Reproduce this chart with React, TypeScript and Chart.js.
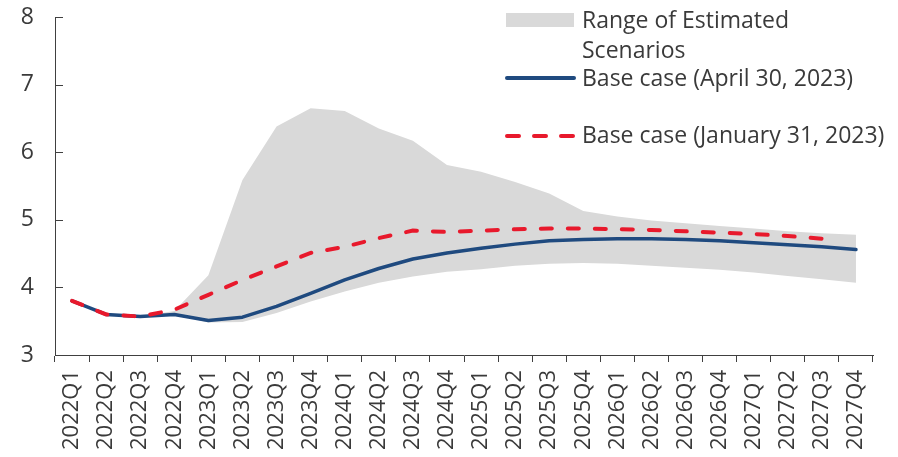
import React, { useEffect, useRef } from "react";
import { Chart, registerables } from "chart.js";

Chart.register(...registerables);

const categories = [
  "2022Q1", "2022Q2", "2022Q3", "2022Q4",
  "2023Q1", "2023Q2", "2023Q3", "2023Q4",
  "2024Q1", "2024Q2", "2024Q3", "2024Q4",
  "2025Q1", "2025Q2", "2025Q3", "2025Q4",
  "2026Q1", "2026Q2", "2026Q3", "2026Q4",
  "2027Q1", "2027Q2", "2027Q3", "2027Q4",
];

const rangeUpper = [3.8, 3.6, 3.57, 3.65, 4.18, 5.59, 6.38, 6.65, 6.61, 6.35, 6.17, 5.81, 5.71, 5.56, 5.39, 5.13, 5.05, 4.99, 4.95, 4.91, 4.87, 4.83, 4.8, 4.78];
const rangeLower = [3.8, 3.6, 3.57, 3.6, 3.48, 3.49, 3.62, 3.79, 3.94, 4.07, 4.16, 4.23, 4.27, 4.32, 4.35, 4.36, 4.35, 4.32, 4.29, 4.26, 4.22, 4.17, 4.12, 4.07];
const baseApril = [3.8, 3.6, 3.57, 3.6, 3.51, 3.56, 3.72, 3.91, 4.11, 4.28, 4.42, 4.51, 4.58, 4.64, 4.69, 4.71, 4.72, 4.72, 4.71, 4.69, 4.66, 4.63, 4.6, 4.56];
const baseJanuary = [3.8, 3.6, 3.57, 3.67, 3.89, 4.11, 4.31, 4.51, 4.6, 4.73, 4.84, 4.82, 4.84, 4.86, 4.87, 4.87, 4.86, 4.85, 4.83, 4.81, 4.79, 4.76, 4.72, null];

const yTicks = [3, 4, 5, 6, 7, 8];

const legendLabels = [
  ["Range of Estimated", "Scenarios"],
  ["Base case (April 30, 2023)"],
  ["Base case (January 31, 2023)"],
];

const FONT = '"Open Sans", "Noto Sans", sans-serif';
const TEXT = "#3a3a3a";
const AXIS = "#404040";
const GREY = "#d9d9d9";
const NAVY = "#1f4a7f";
const RED = "#e8192c";

const customPlugin = {
  id: "customDecor",
  afterDraw(chart: any) {
    const ctx = chart.ctx as CanvasRenderingContext2D;
    const y = chart.scales.y;
    // inward y ticks
    ctx.save();
    ctx.strokeStyle = AXIS;
    ctx.lineWidth = 1;
    for (const v of yTicks) {
      const py = Math.round(y.getPixelForValue(v)) + 0.5;
      ctx.beginPath();
      ctx.moveTo(y.right, py);
      ctx.lineTo(y.right + 8, py);
      ctx.stroke();
    }
    ctx.restore();

    // legend
    ctx.save();
    ctx.font = `23px ${FONT}`;
    ctx.textBaseline = "alphabetic";
    const tx = 582;
    ctx.fillStyle = GREY;
    ctx.fillRect(506, 13, 68, 14);
    ctx.fillStyle = TEXT;
    ctx.fillText(legendLabels[0][0], tx, 28);
    ctx.fillText(legendLabels[0][1], tx, 58);

    ctx.strokeStyle = NAVY;
    ctx.lineWidth = 4;
    ctx.lineCap = "round";
    ctx.beginPath();
    ctx.moveTo(507, 78);
    ctx.lineTo(574, 78);
    ctx.stroke();
    ctx.fillText(legendLabels[1][0], tx, 86);

    ctx.strokeStyle = RED;
    ctx.lineCap = "round";
    ctx.setLineDash([12, 15]);
    ctx.beginPath();
    ctx.moveTo(507, 136);
    ctx.lineTo(576, 136);
    ctx.stroke();
    ctx.setLineDash([]);
    ctx.fillText(legendLabels[2][0], tx, 143);
    ctx.restore();
  },
};

export default function App() {
  const ref = useRef<HTMLCanvasElement>(null);

  useEffect(() => {
    if (!ref.current) return;
    const chart = new Chart(ref.current, {
      type: "line",
      data: {
        labels: categories,
        datasets: [
          {
            label: "Range upper",
            data: rangeUpper,
            borderWidth: 0,
            borderColor: "rgba(0,0,0,0)",
            backgroundColor: GREY,
            pointRadius: 0,
            fill: "+1",
            order: 3,
          },
          {
            label: "Range lower",
            data: rangeLower,
            borderWidth: 0,
            borderColor: "rgba(0,0,0,0)",
            pointRadius: 0,
            fill: false,
            order: 3,
          },
          {
            label: legendLabels[1][0],
            data: baseApril,
            borderColor: NAVY,
            borderWidth: 3.5,
            borderCapStyle: "round",
            borderJoinStyle: "round",
            pointRadius: 0,
            fill: false,
            order: 1,
          },
          {
            label: legendLabels[2][0],
            data: baseJanuary,
            borderColor: RED,
            borderWidth: 4,
            borderDash: [11, 16],
            borderCapStyle: "round",
            pointRadius: 0,
            fill: false,
            spanGaps: false,
            order: 0,
          },
        ],
      },
      options: {
        animation: false,
        responsive: false,
        maintainAspectRatio: false,
        layout: { padding: { top: 17, right: 25, left: 0, bottom: 0 } },
        plugins: {
          legend: { display: false },
          tooltip: { enabled: false },
        },
        scales: {
          x: {
            offset: true,
            afterFit: (s: any) => {
              s.height = 102;
              s.paddingLeft = 0;
              s.paddingRight = 0;
            },
            border: { display: true, color: AXIS, width: 1 },
            grid: {
              offset: true,
              drawOnChartArea: false,
              drawTicks: true,
              tickLength: 7,
              color: AXIS,
            },
            ticks: {
              autoSkip: false,
              minRotation: 90,
              maxRotation: 90,
              padding: 8,
              color: TEXT,
              font: { family: FONT, size: 22 },
            },
          },
          y: {
            min: 3,
            max: 8,
            afterFit: (s: any) => {
              s.width = 55;
              s.paddingTop = 0;
              s.paddingBottom = 0;
            },
            afterBuildTicks: (s: any) => {
              s.ticks = yTicks.map((v) => ({ value: v }));
            },
            border: { display: true, color: AXIS, width: 1 },
            grid: { drawOnChartArea: false, drawTicks: false },
            ticks: {
              padding: 21,
              color: TEXT,
              font: { family: FONT, size: 23 },
            },
          },
        },
      },
      plugins: [customPlugin],
    });
    return () => chart.destroy();
  }, []);

  return (
    <div style={{ position: "fixed", left: 0, top: 0, width: 898, height: 457, background: "#fff" }}>
      <canvas ref={ref} width={898} height={457} style={{ width: 898, height: 457, display: "block" }} />
    </div>
  );
}
